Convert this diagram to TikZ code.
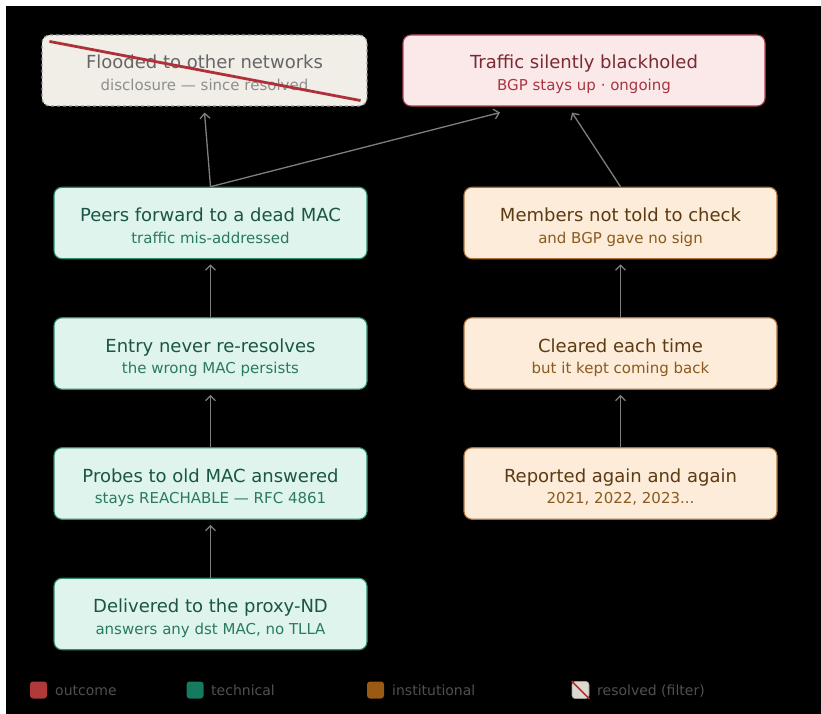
\documentclass[tikz,border=0pt]{standalone}
\usepackage{fontspec}
\setmainfont{DejaVu Sans}
\usetikzlibrary{arrows.meta}
\definecolor{techfill}{HTML}{DFF4EC}
\definecolor{techdraw}{HTML}{2F8A6C}
\definecolor{techtitle}{HTML}{1A5545}
\definecolor{techsub}{HTML}{2A7A5E}
\definecolor{instfill}{HTML}{FCECD9}
\definecolor{instdraw}{HTML}{A8723A}
\definecolor{insttitle}{HTML}{5C3A12}
\definecolor{instsub}{HTML}{8A5A1E}
\definecolor{outfill}{HTML}{FBE8E9}
\definecolor{outdraw}{HTML}{B54452}
\definecolor{outtitle}{HTML}{7A2A33}
\definecolor{outsub}{HTML}{A83642}
\definecolor{resfill}{HTML}{F1EEE8}
\definecolor{resdraw}{HTML}{9A9A9A}
\definecolor{restitle}{HTML}{666666}
\definecolor{ressub}{HTML}{8E8E8E}
\definecolor{strikered}{HTML}{B0303A}
\definecolor{arrowgray}{HTML}{7F7F7F}
\definecolor{legtext}{HTML}{505050}
\definecolor{legout}{HTML}{B03A3A}
\definecolor{legtech}{HTML}{157A5F}
\definecolor{leginst}{HTML}{9A5A14}
\definecolor{legres}{HTML}{DDD8D0}
\newcommand\boxtext[5]{%
  \node[font=\fontsize{18}{20}\selectfont, text=#4, anchor=base, inner sep=0] (#1t) at ([yshift=1.5pt]#1.center) {#2};
  \node[font=\fontsize{15}{17}\selectfont, text=#5, anchor=base, inner sep=0] (#1s) at ([yshift=-20pt]#1.center) {#3};}
\begin{document}
\begin{tikzpicture}[x=1pt,y=-1pt,
  basebox/.style={rounded corners=8pt, line width=1.1pt, inner sep=0, minimum height=71.5pt, minimum width=313pt},
  techbox/.style={basebox, draw=techdraw, fill=techfill},
  instbox/.style={basebox, draw=instdraw, fill=instfill},
  outbox/.style={basebox, draw=outdraw, fill=outfill},
  resbox/.style={basebox, draw=resdraw, fill=resfill, dashed},
  arr/.style={draw=arrowgray, line width=1.3pt, -{Straight Barb[length=5pt,width=10pt]}},
  strike/.style={draw=strikered, line width=2.8pt},
  legsq/.style={rounded corners=3pt, minimum size=17pt, inner sep=0},
  legtxt/.style={font=\fontsize{14}{16}\selectfont, text=legtext, anchor=base west, inner sep=0}]
\useasboundingbox (0,0) rectangle (821,714);
\fill[white] (0,0) rectangle (821,714);
\fill[black] (6,6) rectangle (821,714);

% nodes
\node[resbox, minimum width=325pt, minimum height=71pt] (flood) at (204.5,70.5) {};
\node[outbox, minimum width=362pt, minimum height=71pt] (traffic) at (584,70.5) {};
\node[techbox] (peers) at (210.5,223) {};
\node[techbox] (entry) at (210.5,353.5) {};
\node[techbox] (probes) at (210.5,483.5) {};
\node[techbox] (deliv) at (210.5,614) {};
\node[instbox] (members) at (620.5,223) {};
\node[instbox] (cleared) at (620.5,353.5) {};
\node[instbox] (reported) at (620.5,483.5) {};

\boxtext{flood}{Flooded to other networks}{disclosure — since resolved}{restitle}{ressub}
\boxtext{traffic}{Traffic silently blackholed}{BGP stays up · ongoing}{outtitle}{outsub}
\boxtext{peers}{Peers forward to a dead MAC}{traffic mis-addressed}{techtitle}{techsub}
\boxtext{entry}{Entry never re-resolves}{the wrong MAC persists}{techtitle}{techsub}
\boxtext{probes}{Probes to old MAC answered}{stays REACHABLE — RFC 4861}{techtitle}{techsub}
\boxtext{deliv}{Delivered to the proxy-ND}{answers any dst MAC, no TLLA}{techtitle}{techsub}
\boxtext{members}{Members not told to check}{and BGP gave no sign}{insttitle}{instsub}
\boxtext{cleared}{Cleared each time}{but it kept coming back}{insttitle}{instsub}
\boxtext{reported}{Reported again and again}{2021, 2022, 2023...}{insttitle}{instsub}

% strike-through of resolved box
\draw[strike] ([xshift=8pt,yshift=-7pt]flood.north west) -- ([xshift=-7pt,yshift=6pt]flood.south east);

% connectors
\draw[arr] (deliv.north) -- ([yshift=-5pt]probes.south);
\draw[arr] (probes.north) -- ([yshift=-5pt]entry.south);
\draw[arr] (entry.north) -- ([yshift=-5pt]peers.south);
\draw[arr] (peers.north) -- ([yshift=-6pt]flood.south);
\draw[arr] (peers.north) -- ([xshift=-84pt,yshift=-6pt]traffic.south);
\draw[arr] (reported.north) -- ([yshift=-5pt]cleared.south);
\draw[arr] (cleared.north) -- ([yshift=-5pt]members.south);
\draw[arr] (members.north) -- ([xshift=-12pt,yshift=-6pt]traffic.south);

% legend
\node[legsq, fill=legout] (lgout) at (38.5,690) {};
\node[legtxt] (lgoutt) at (55,695) {outcome};
\node[legsq, fill=legtech] (lgtech) at (195,690) {};
\node[legtxt] (lgtecht) at (211,695) {technical};
\node[legsq, fill=leginst] (lginst) at (375.5,690) {};
\node[legtxt] (lginstt) at (392,695) {institutional};
\node[legsq, fill=legres, draw=resdraw, line width=0.6pt] (lgres) at (580.5,690) {};
\draw[draw=strikered, line width=1.6pt] (lgres.north west) -- (lgres.south east);
\node[legtxt] (lgrest) at (597,695) {resolved (filter)};
\end{tikzpicture}
\end{document}
